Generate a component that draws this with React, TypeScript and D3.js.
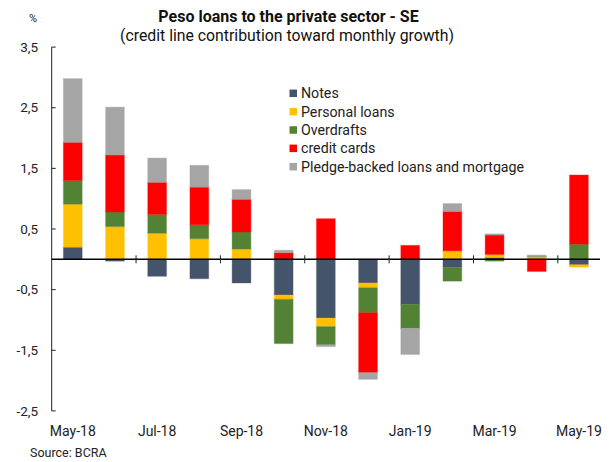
import React from "react";
import * as d3 from "d3";

// Monthly contributions (percentage points) by credit line
const months = ["May-18", "Jun-18", "Jul-18", "Aug-18", "Sep-18", "Oct-18", "Nov-18", "Dec-18", "Jan-19", "Feb-19", "Mar-19", "Apr-19", "May-19"];
const notes = [0.20, -0.03, -0.28, -0.32, -0.39, -0.59, -0.97, -0.39, -0.74, -0.13, 0.03, 0.0, -0.09];
const personalLoans = [0.71, 0.54, 0.43, 0.34, 0.17, -0.07, -0.14, -0.08, 0.0, 0.14, 0.05, 0.04, -0.04];
const overdrafts = [0.39, 0.24, 0.31, 0.23, 0.28, -0.73, -0.30, -0.41, -0.40, -0.23, -0.03, 0.01, 0.25];
const creditCards = [0.63, 0.94, 0.53, 0.62, 0.54, 0.11, 0.67, -0.99, 0.23, 0.65, 0.32, -0.20, 1.14];
const pledgeMortgage = [1.05, 0.79, 0.40, 0.36, 0.16, 0.04, -0.03, -0.11, -0.43, 0.13, 0.02, 0.02, 0.0];

const seriesNames = ["Notes", "Personal loans", "Overdrafts", "credit cards", "Pledge-backed loans and mortgage"];
const seriesValues = [notes, personalLoans, overdrafts, creditCards, pledgeMortgage];
const seriesColors = ["#44546A", "#FFC000", "#548235", "#FF0000", "#A5A5A5"];
const yTicks = [3.5, 2.5, 1.5, 0.5, -0.5, -1.5, -2.5];

const W = 611;
const H = 462;
const FONT = "Roboto, 'Noto Sans', sans-serif";

export default function App() {
  const x = d3.scaleBand<string>().domain(months).range([51.7, 600]).paddingInner(0.555).paddingOuter(0.2775);
  const y = d3.scaleLinear().domain([-2.5, 3.5]).range([410.9, 47.1]);

  const rows = months.map((m, i) => {
    const r: Record<string, any> = { month: m };
    seriesNames.forEach((s, k) => (r[s] = seriesValues[k][i]));
    return r;
  });
  const stacked = d3
    .stack<any>()
    .keys(seriesNames)
    .offset(d3.stackOffsetDiverging)(rows);

  const step = x.step();
  const x0 = 51.7;
  const boundaryTicks = [2, 4, 6, 8, 10, 12].map((k) => x0 + k * step);
  const fmt = (v: number) => String(v).replace(".", ",");

  return (
    <svg width={W} height={H} style={{ position: "absolute", left: 0, top: 0, background: "#fff" }} fontFamily={FONT}>
      {/* titles */}
      <text x={288.5} y={22} textAnchor="middle" fontSize={16} fontWeight="bold" fill="#111">
        Peso loans to the private sector - SE
      </text>
      <text x={287} y={41} textAnchor="middle" fontSize={15.8} fill="#111">
        (credit line contribution toward monthly growth)
      </text>
      <text x={33} y={22} textAnchor="middle" fontSize={11} fill="#222">%</text>

      {/* bars */}
      {stacked.map((layer, k) => (
        <g key={layer.key} fill={seriesColors[k]} stroke={seriesColors[k]} strokeOpacity={0.3} strokeWidth={1.2}>
          {layer.map((d, i) => {
            const top = y(Math.max(d[0], d[1]));
            const bot = y(Math.min(d[0], d[1]));
            if (bot - top < 0.01) return null;
            return <rect key={i} x={x(months[i])!} y={top} width={x.bandwidth()} height={bot - top} />;
          })}
        </g>
      ))}

      {/* y axis */}
      <line x1={x0} x2={x0} y1={y(3.5)} y2={y(-2.5)} stroke="#222" strokeWidth={1} />
      {yTicks.map((t) => (
        <g key={t}>
          <line x1={x0} x2={x0 + 4} y1={y(t)} y2={y(t)} stroke="#222" strokeWidth={1} />
          <text x={38} y={y(t)} dy="0.35em" textAnchor="end" fontSize={13.5} fill="#222">
            {fmt(t)}
          </text>
        </g>
      ))}

      {/* zero line with category ticks */}
      <line x1={x0} x2={600} y1={y(0)} y2={y(0)} stroke="#000" strokeWidth={1.5} />
      {boundaryTicks.map((bx, i) => (
        <line key={i} x1={bx} x2={bx} y1={y(0) - 4} y2={y(0) + 4} stroke="#222" strokeWidth={1} />
      ))}

      {/* month labels */}
      {months.map((m, i) =>
        i % 2 === 0 ? (
          <text key={m} x={x(m)! + x.bandwidth() / 2} y={436} textAnchor="middle" fontSize={14} fill="#222">
            {m}
          </text>
        ) : null
      )}

      {/* legend */}
      {seriesNames.map((s, k) => (
        <g key={s} transform={`translate(289.5, ${93.3 + k * 18.35})`}>
          <rect x={0} y={-3.75} width={7.5} height={7.5} fill={seriesColors[k]} />
          <text x={11.5} y={0} dy="0.35em" fontSize={14.2} fill="#222">
            {s}
          </text>
        </g>
      ))}

      <text x={30} y={456.5} fontSize={12.5} fill="#222">Source: BCRA</text>
    </svg>
  );
}
